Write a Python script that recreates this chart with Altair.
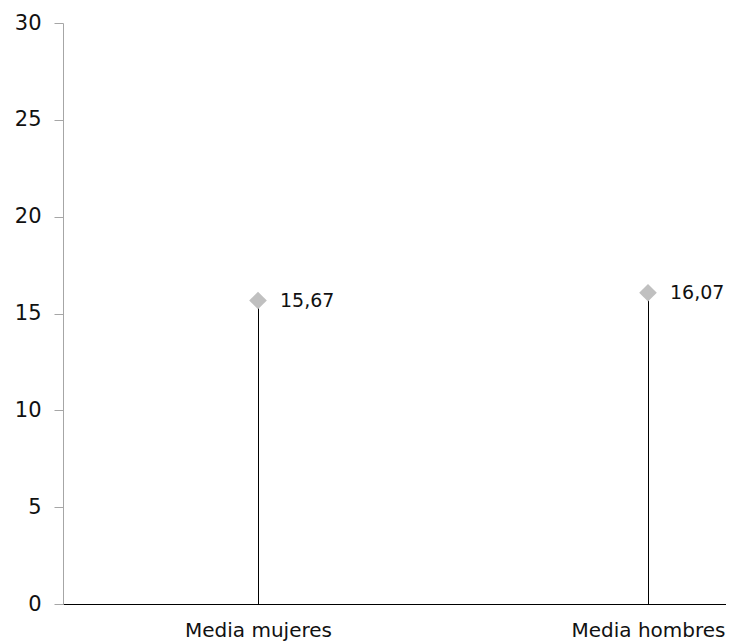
import altair as alt
import pandas as pd

categories = ["Media mujeres", "Media hombres"]
values = [15.67, 16.07]
labels = ["15,67", "16,07"]

df = pd.DataFrame({
    "cat": categories,
    "pos": [i + 0.5 for i in range(len(categories))],
    "val": values,
    "lab": labels,
})

FONT = "DejaVu Sans"

label_expr = " : ".join(
    f"datum.value == {i + 0.5} ? '{c}'" for i, c in enumerate(categories[:-1])
) + f" : '{categories[-1]}'"

x_enc = alt.X("pos:Q", title=None,
              scale=alt.Scale(domain=[0, 1.7], nice=False, zero=True),
              axis=alt.Axis(values=[0.5, 1.5], labelExpr=label_expr,
                            labelAngle=0, ticks=False, labelPadding=16,
                            labelFontSize=20, labelFont=FONT, labelColor="#111",
                            labelFlush=False, labelOverlap=False,
                            domainColor="#000", domainWidth=1, grid=False))
y_enc = alt.Y("val:Q", title=None,
              scale=alt.Scale(domain=[0, 30], nice=False, zero=True),
              axis=alt.Axis(values=[0, 5, 10, 15, 20, 25, 30], tickSize=9,
                            tickColor="#a6a6a6", domainColor="#a6a6a6",
                            labelPadding=13, labelFontSize=21, labelFont=FONT,
                            labelColor="#111", grid=False))

base = alt.Chart(df)

stems = base.mark_rule(color="#000", strokeWidth=1, xOffset=0.5).encode(
    x=x_enc, y=y_enc, y2=alt.datum(0))
points = base.mark_point(shape="diamond", filled=True, color="#c0c0c0",
                         size=310, opacity=1).encode(x=x_enc, y=y_enc)
texts = base.mark_text(align="left", baseline="middle", dx=22, fontSize=19,
                       font=FONT, color="#111").encode(x=x_enc, y=y_enc, text="lab:N")

chart = alt.layer(stems, points, texts).properties(
    width=663, height=581,
    autosize=alt.AutoSizeParams(type="none"),
    padding={"left": 55, "top": 15, "right": 0, "bottom": 39},
).configure_view(stroke=None)

chart.save("out.html", embed_options={"renderer": "svg", "actions": False})
